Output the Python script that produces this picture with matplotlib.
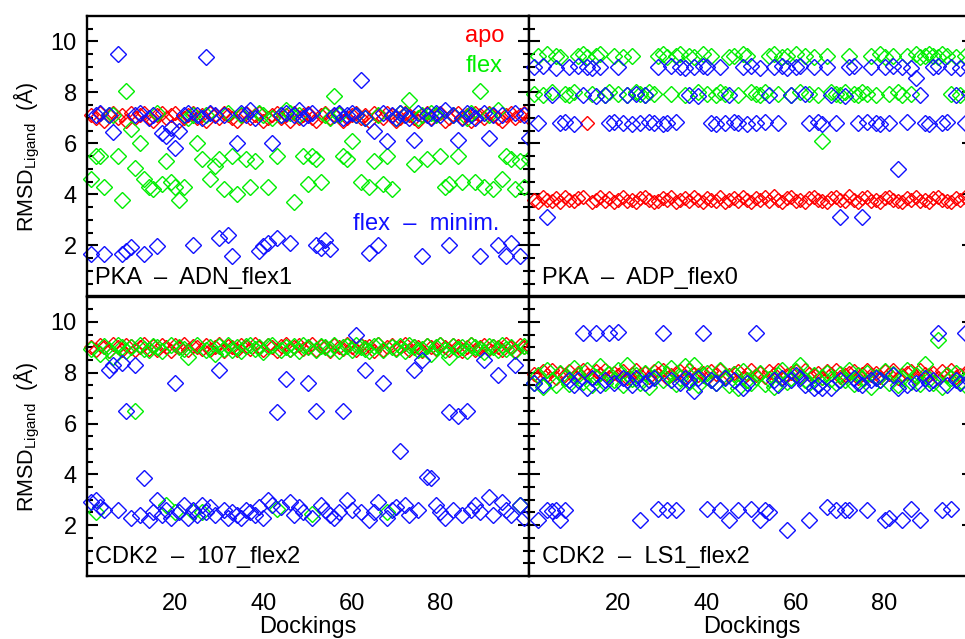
import matplotlib
matplotlib.use("Agg")
import matplotlib.pyplot as plt
import numpy as np

plt.rcParams['font.family'] = ['Liberation Sans', 'DejaVu Sans']
plt.rcParams['mathtext.fontset'] = 'custom'
plt.rcParams['mathtext.rm'] = 'Liberation Sans'

dockings = list(range(1, 101))
xticks = [20, 40, 60, 80]
yticks = [2, 4, 6, 8, 10]

# ---------------- PKA - ADN_flex1 ----------------
pka_adn_apo = [7.1,7.0,7.2,6.9,7.1,7.2,7.0,7.1,6.9,7.2,
               7.0,7.1,7.2,7.0,6.9,7.1,7.2,7.0,7.1,7.2,
               6.9,7.0,7.1,7.2,7.0,7.1,6.9,7.2,7.1,7.0,
               7.2,7.1,7.0,6.9,7.1,7.2,7.0,7.1,7.2,6.9,
               7.0,7.1,7.2,7.0,7.1,6.9,7.2,7.0,7.1,7.2,
               7.0,6.9,7.1,7.2,7.0,7.1,7.2,6.9,7.0,7.1,
               7.2,7.0,7.1,6.9,7.2,7.1,7.0,7.2,7.1,6.9,
               7.0,7.2,7.1,7.0,6.9,7.1,7.2,7.0,7.1,7.2,
               6.9,7.0,7.1,7.2,7.0,7.1,6.9,7.2,7.1,7.0,
               7.2,7.1,7.0,6.9,7.1,7.2,7.0,7.1,7.2,7.0]
pka_adn_flex = [4.6,5.5,5.5,4.3,7.1,7.1,5.5,3.8,8.05,6.55,
                5.05,6.0,4.6,4.3,4.2,7.2,4.4,5.3,4.5,4.3,
                3.8,4.3,7.0,7.1,6.0,5.4,7.1,4.6,5.1,5.4,
                4.2,7.2,5.5,4.0,7.1,5.4,4.3,5.3,7.2,7.1,
                4.3,7.0,5.5,7.1,7.3,7.2,3.7,7.1,5.5,4.4,
                5.5,5.4,4.5,7.1,7.0,7.85,7.1,5.5,5.4,6.1,
                7.1,4.5,7.0,4.3,5.3,7.1,4.4,5.5,4.2,7.0,
                7.2,7.1,7.7,5.2,7.0,7.1,5.4,7.2,7.1,5.5,
                4.3,4.4,7.1,5.5,4.5,7.0,7.2,4.5,8.05,4.3,
                7.1,4.2,7.3,4.6,5.5,5.4,4.2,5.3,4.3,5.4]
pka_adn_min = [1.65,7.1,7.2,1.65,7.1,6.45,9.5,1.65,1.8,1.95,
               7.1,7.2,1.65,7.0,7.1,1.97,6.4,6.3,6.6,5.84,
               6.5,7.1,7.2,2.0,7.1,7.0,9.4,7.2,7.1,2.3,
               7.1,2.4,1.6,6.0,7.2,7.1,7.3,7.0,1.8,1.97,
               2.1,6.0,2.3,7.1,7.2,2.1,7.1,7.3,7.0,7.1,
               7.2,2.0,1.9,2.2,1.85,7.1,7.2,7.0,7.1,7.2,
               7.1,8.5,7.0,1.7,6.5,2.0,7.2,6.1,7.1,7.0,
               7.2,7.1,7.0,6.15,7.2,1.6,7.1,7.0,7.2,7.1,
               7.3,2.0,7.1,6.15,7.0,7.2,7.1,7.0,1.6,7.2,
               6.2,7.1,2.0,7.1,1.6,2.1,7.2,1.6,7.1,6.2]

# ---------------- PKA - ADP_flex0 ----------------
pka_adp_apo = [3.8,3.7,3.9,3.8,3.75,3.85,3.7,3.9,3.8,3.75,
               3.85,3.9,6.8,3.7,3.8,3.9,3.75,3.85,3.7,3.8,
               3.9,3.75,3.8,3.7,3.85,3.9,3.8,3.7,3.75,3.85,
               3.8,3.9,3.7,3.8,3.85,3.75,3.9,3.8,3.7,3.85,
               3.8,3.75,3.9,3.7,3.8,3.85,3.75,3.9,3.8,3.7,
               3.85,3.8,3.9,3.75,3.95,3.8,3.7,3.85,3.9,3.75,
               3.8,3.7,3.85,3.9,3.8,3.75,3.7,3.85,3.9,3.8,
               3.75,3.95,3.8,3.7,3.85,3.9,3.75,3.8,3.7,3.85,
               3.9,3.8,3.75,3.7,3.85,3.8,3.9,3.75,3.8,3.7,
               3.85,3.9,3.8,3.75,3.7,3.85,3.8,3.9,3.75,3.8]
pka_adp_flex = [7.95,9.45,7.9,9.5,8.0,9.45,9.4,7.95,7.9,8.0,
                9.45,9.5,9.4,7.95,9.45,9.5,7.9,8.0,9.45,7.95,
                9.4,7.9,9.45,8.0,7.95,7.9,8.0,7.95,9.45,9.5,
                9.4,7.95,9.45,9.5,7.9,9.45,9.4,8.0,9.5,7.95,
                9.45,7.9,8.0,7.95,9.4,9.45,7.9,9.5,9.45,8.0,
                7.95,7.9,8.0,9.45,9.5,7.95,9.4,9.45,7.9,9.5,
                8.0,9.45,7.95,9.4,7.9,6.1,9.45,8.0,7.95,7.9,
                8.0,9.45,7.95,7.9,8.0,7.95,9.45,7.9,9.5,9.4,
                7.95,9.45,8.0,7.9,9.45,7.95,9.5,9.4,9.45,9.5,
                9.45,9.4,9.5,9.45,7.95,9.4,7.9,9.45,7.95,9.5]
pka_adp_min = [9.0,6.8,9.05,3.1,7.9,8.95,6.8,6.85,9.0,6.75,
               9.05,7.9,9.0,8.95,7.85,9.0,7.9,6.8,6.85,9.0,
               6.8,7.9,6.75,7.95,6.8,7.9,6.85,6.8,9.0,6.75,
               6.8,9.05,6.85,9.0,8.95,7.9,9.0,7.85,9.05,9.0,
               6.8,6.75,9.0,6.8,7.9,6.85,6.8,9.0,6.75,9.05,
               6.8,8.95,6.85,7.9,9.0,6.8,9.05,8.95,7.9,9.0,
               9.05,7.95,6.8,9.0,6.85,6.75,9.0,7.9,6.8,3.1,
               7.85,9.0,9.05,6.8,3.1,6.85,9.0,6.8,6.75,9.0,
               6.8,9.05,5.0,9.0,6.85,8.95,8.55,7.9,6.8,6.75,
               9.0,9.05,6.8,6.85,9.0,7.9,8.95,6.8,9.0,6.85]

# ---------------- CDK2 - 107_flex2 ----------------
cdk2_107_apo = [9.0,8.9,9.1,9.0,8.85,9.15,9.0,8.9,9.1,9.05,
                8.9,9.0,9.15,8.95,9.05,8.9,9.1,9.0,8.85,9.1,
                9.0,9.15,8.9,9.05,9.0,8.95,9.1,8.9,9.0,9.15,
                8.85,9.05,9.0,8.9,9.1,9.0,8.95,9.15,9.0,8.9,
                9.1,9.0,8.85,9.05,9.15,8.9,9.0,9.1,8.95,9.0,
                9.15,8.9,9.05,9.0,8.85,9.1,9.0,8.95,9.15,9.0,
                8.9,9.1,9.0,9.05,8.85,9.15,8.9,9.0,9.1,8.95,
                9.0,9.15,8.9,9.05,9.0,8.85,9.1,9.0,8.95,9.15,
                9.0,8.9,9.1,9.05,8.85,9.0,9.15,8.9,9.0,9.1,
                8.95,9.05,9.0,8.9,9.15,9.0,8.85,9.1,9.0,9.05]
cdk2_107_flex = [8.95,2.5,8.75,9.05,8.9,8.6,9.1,9.0,8.85,9.0,
                 6.5,9.1,8.95,8.9,9.05,9.0,8.85,2.8,9.1,2.5,
                 9.0,8.95,8.6,2.5,9.1,2.5,8.9,9.0,8.75,9.05,
                 8.95,9.1,8.9,9.0,8.85,9.05,9.1,8.95,9.0,8.8,
                 9.05,9.1,2.65,8.9,9.0,8.95,9.05,8.85,9.1,9.0,
                 2.45,8.9,9.05,9.0,8.95,9.1,8.85,9.0,9.05,8.9,
                 9.1,9.0,8.95,8.85,9.05,9.1,8.9,2.5,9.0,8.95,
                 9.05,8.85,9.1,9.0,8.9,8.95,9.05,8.75,9.0,9.1,
                 8.9,8.6,9.05,8.95,9.0,8.85,9.1,9.0,8.95,8.8,
                 9.05,9.0,8.9,9.1,8.95,9.0,8.85,2.8,9.05,9.0]
cdk2_107_min = [2.9,3.0,2.7,2.6,8.1,8.3,2.6,8.4,6.5,2.3,
                8.3,2.4,3.85,2.2,2.5,3.0,2.4,2.6,2.3,7.6,
                2.5,2.8,2.3,2.6,2.4,2.8,2.5,2.7,2.4,8.1,
                2.6,2.3,2.5,2.4,2.3,2.6,2.5,2.4,2.7,2.3,
                3.0,2.8,6.45,2.7,7.75,2.9,2.4,2.7,2.5,7.6,
                2.3,6.5,2.8,2.6,2.4,2.3,2.5,6.5,3.0,2.6,
                9.5,2.5,8.1,2.2,2.5,2.9,7.6,2.3,2.6,2.7,
                4.9,2.8,2.4,8.1,2.6,8.5,3.9,3.85,2.8,2.5,
                2.3,6.45,2.6,6.3,2.4,6.5,2.6,2.8,2.5,8.5,
                3.1,2.4,7.9,2.9,2.6,2.4,8.3,2.8,2.3,2.5]

# ---------------- CDK2 - LS1_flex2 ----------------
cdk2_ls1_apo = [7.95,7.85,8.05,7.9,8.1,7.8,8.0,7.9,8.05,7.85,
                8.0,8.1,7.9,7.8,8.05,7.95,8.1,7.85,8.0,7.9,
                8.05,7.8,7.95,8.1,7.9,8.0,7.85,8.05,7.95,8.1,
                7.8,7.9,8.0,8.05,7.85,8.1,7.95,7.9,8.0,7.8,
                8.05,7.95,8.1,7.85,7.9,8.0,8.05,7.8,7.95,8.1,
                7.9,8.0,7.85,8.05,7.95,8.1,7.8,7.9,8.0,8.05,
                7.85,8.1,7.95,7.9,8.0,7.8,8.05,7.95,8.1,7.85,
                7.9,8.0,8.05,7.8,7.95,8.1,7.9,8.0,7.85,8.05,
                7.95,8.1,7.8,7.9,8.0,8.05,7.85,8.1,7.95,7.9,
                8.0,7.8,8.05,7.95,8.1,7.85,7.9,8.0,8.05,7.95]
cdk2_ls1_flex = [7.6,7.9,7.45,8.1,7.7,7.5,8.0,7.8,7.55,8.2,
                 7.9,7.65,8.1,7.5,7.85,8.25,7.6,7.95,7.7,8.1,
                 7.5,8.3,7.75,7.9,7.6,8.0,7.45,7.85,8.15,7.7,
                 7.95,8.2,7.55,7.8,8.25,7.65,8.3,7.5,7.9,8.0,
                 7.7,7.6,8.1,7.85,7.5,7.95,7.4,8.05,7.7,7.6,
                 7.85,8.0,7.55,7.75,7.45,7.9,8.1,7.65,7.8,8.05,
                 8.3,7.7,7.6,7.9,7.5,7.85,8.0,7.75,7.6,7.95,
                 7.7,8.1,7.55,7.9,7.8,8.0,7.45,7.85,7.7,8.05,
                 7.6,7.95,7.5,7.8,8.1,7.65,7.9,7.55,8.35,7.75,
                 7.6,9.3,7.45,7.9,7.8,8.0,7.65,7.5,7.85,7.7]
cdk2_ls1_min = [7.6,2.2,7.5,2.6,2.55,2.6,2.2,2.6,7.7,7.5,
                7.7,9.55,7.4,7.8,9.55,7.5,7.7,9.55,7.6,9.6,
                7.8,7.7,7.5,7.8,2.2,7.6,7.7,7.8,2.65,9.55,
                2.6,7.7,2.6,7.6,7.8,7.7,7.3,7.8,9.55,2.65,
                7.7,7.6,2.6,7.8,2.2,7.7,2.6,7.4,7.6,2.65,
                9.55,2.2,2.6,2.5,7.7,7.5,7.8,1.8,7.7,7.9,
                7.8,7.5,2.2,7.4,7.5,7.4,2.7,7.4,2.6,7.7,
                2.6,2.6,7.8,7.6,7.5,2.6,7.7,7.8,7.7,2.2,
                2.3,7.9,7.4,2.2,7.5,2.65,7.6,2.2,7.8,7.6,
                7.7,9.55,2.6,7.5,2.65,7.7,7.6,9.55,7.7,7.6]

panels = [
    ("PKA  \u2013  ADN_flex1", pka_adn_apo, pka_adn_flex, pka_adn_min),
    ("PKA  \u2013  ADP_flex0", pka_adp_apo, pka_adp_flex, pka_adp_min),
    ("CDK2  \u2013  107_flex2", cdk2_107_apo, cdk2_107_flex, cdk2_107_min),
    ("CDK2  \u2013  LS1_flex2", cdk2_ls1_apo, cdk2_ls1_flex, cdk2_ls1_min),
]

RED = '#ff0000'
GREEN = '#00ee00'
BLUE = '#1010ff'

W, H = 965, 639
fig = plt.figure(figsize=(W / 100, H / 100), dpi=100)

def rect(x0, y0, x1, y1):
    return [x0 / W, 1 - y1 / H, (x1 - x0) / W, (y1 - y0) / H]

rects = [rect(86.7, 16, 528.5, 296.5), rect(529.4, 16, 973.4, 296.5),
         rect(86.7, 296.5, 528.5, 576), rect(529.4, 296.5, 973.4, 576)]

FS = 17
for i, (label, apo, flex, mini) in enumerate(panels):
    ax = fig.add_axes(rects[i])
    ax.plot(dockings, apo, ls='none', marker='D', ms=7.6, mfc='none',
            mec=RED, mew=1.0, clip_on=False, antialiased=False)
    ax.plot(dockings, flex, ls='none', marker='D', ms=8.6, mfc='none',
            mec=GREEN, mew=1.0, clip_on=False, antialiased=False)
    ax.plot(dockings, mini, ls='none', marker='D', ms=8.6, mfc='none',
            mec=BLUE, mew=1.0, clip_on=False, antialiased=False)
    ax.set_xlim(0, 100)
    ax.set_ylim(0, 11)
    ax.set_xticks(xticks)
    ax.set_yticks(yticks)
    ax.set_yticks(np.arange(0.5, 11, 0.5), minor=True)
    ax.tick_params(axis='y', which='major', direction='in', length=8,
                   width=1.5, left=True, right=True, labelsize=FS, pad=7)
    ax.tick_params(axis='y', which='minor', direction='in', length=4,
                   width=1.5, left=True, right=True)
    ax.tick_params(axis='x', which='both', length=0, labelsize=FS, pad=12)
    for sp in ax.spines.values():
        sp.set_linewidth(1.7)
    if i % 2 == 1:
        ax.tick_params(axis='y', labelleft=False)
    else:
        ax.set_ylabel(r'RMSD$_{\mathregular{Ligand}}$  (Å)', fontsize=15.5, labelpad=6)
    if i < 2:
        ax.tick_params(axis='x', labelbottom=False)
    else:
        ax.set_xlabel('Dockings', fontsize=FS, labelpad=1)
    tx = 0.019 if i % 2 == 0 else 0.028
    ax.text(tx, 0.046, label, transform=ax.transAxes, fontsize=FS,
            ha='left', va='baseline', color='black')
    if i == 0:
        ax.text(0.857, 0.907, 'apo', transform=ax.transAxes, fontsize=FS,
                color=RED, ha='left', va='baseline')
        ax.text(0.857, 0.80, 'flex', transform=ax.transAxes, fontsize=FS,
                color=GREEN, ha='left', va='baseline')
        ax.text(0.603, 0.236, 'flex  \u2013  minim.', transform=ax.transAxes,
                fontsize=FS, color=BLUE, ha='left', va='baseline')

fig.savefig('out.png', dpi=100)
